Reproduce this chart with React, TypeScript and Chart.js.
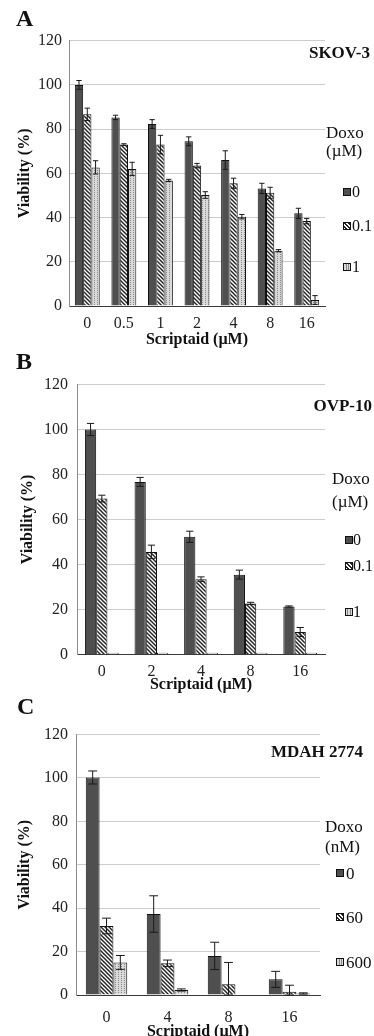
import React, { useEffect, useRef } from 'react';
import { Chart, registerables } from 'chart.js';

Chart.register(...registerables);

const SERIF = '"Liberation Serif", "Times New Roman", serif';

// ---------- Panel A : SKOV-3 ----------
const A_CATEGORIES = ['0', '0.5', '1', '2', '4', '8', '16'];
const A_DOXO_0 = [100, 85.3, 82.3, 74.5, 66, 53.2, 41.9];
const A_DOXO_0_ERR = [2, 1, 2, 2, 4.2, 2.3, 2.3];
const A_DOXO_01 = [86.7, 73, 73, 63.5, 55.5, 51.2, 38.4];
const A_DOXO_01_ERR = [2.8, 0.4, 4.2, 1, 2.3, 2.5, 1.2];
const A_DOXO_1 = [62.7, 62, 56.8, 50.2, 40.4, 25, 2.7];
const A_DOXO_1_ERR = [3, 3, 0.5, 1.5, 1, 0.5, 2];
const A_LEGEND = ['0', '0.1', '1'];

// ---------- Panel B : OVP-10 ----------
const B_CATEGORIES = ['0', '2', '4', '8', '16'];
const B_DOXO_0 = [100, 76.7, 52.3, 35.5, 21.3];
const B_DOXO_0_ERR = [2.7, 2, 2.5, 2, 0.3];
const B_DOXO_01 = [69.3, 45.6, 33.5, 22.7, 10];
const B_DOXO_01_ERR = [1.5, 3, 1, 0.5, 2];
const B_DOXO_1 = [0.8, 0.8, 0.8, 0.8, 0.8];
const B_DOXO_1_ERR = [0, 0, 0, 0, 0];
const B_LEGEND = ['0', '0.1', '1'];

// ---------- Panel C : MDAH 2774 ----------
const C_CATEGORIES = ['0', '4', '8', '16'];
const C_DOXO_0 = [100.2, 37.3, 18, 7.2];
const C_DOXO_0_ERR = [3, 8.4, 6.3, 3.7];
const C_DOXO_60 = [31.8, 14.6, 5, 1.5];
const C_DOXO_60_ERR = [3.6, 1.5, 10, 3];
const C_DOXO_600 = [15, 2.3, 0, 0.7];
const C_DOXO_600_ERR = [3.2, 0.5, 0, 0.3];
const C_LEGEND = ['0', '60', '600'];

const Y_MIN = 0;
const Y_MAX = 120;
const Y_STEP = 20;

function makePatterns() {
  const mk = (w: number, h: number, draw: (c: CanvasRenderingContext2D) => void) => {
    const cv = document.createElement('canvas');
    cv.width = w;
    cv.height = h;
    const c = cv.getContext('2d') as CanvasRenderingContext2D;
    draw(c);
    const tmp = document.createElement('canvas').getContext('2d') as CanvasRenderingContext2D;
    return tmp.createPattern(cv, 'repeat') as CanvasPattern;
  };
  const hatch = mk(4, 4, (c) => {
    c.fillStyle = '#ffffff';
    c.fillRect(0, 0, 4, 4);
    c.strokeStyle = '#262626';
    c.lineWidth = 1.5;
    for (const off of [-4, 0, 4]) {
      c.beginPath();
      c.moveTo(-1, -1 + off);
      c.lineTo(5, 5 + off);
      c.stroke();
    }
  });
  const dotted = mk(3, 2, (c) => {
    c.fillStyle = '#d9d9d9';
    c.fillRect(0, 0, 3, 2);
    c.fillStyle = '#8a8a8a';
    c.fillRect(1, 0, 1, 1);
  });
  return ['#4f4f4f', hatch, dotted];
}

const errorBarPlugin = {
  id: 'errorBars',
  afterDatasetsDraw(chart: any) {
    const { ctx } = chart;
    const ys = chart.scales.y;
    chart.data.datasets.forEach((ds: any, i: number) => {
      const errs: number[] = ds.errors || [];
      const meta = chart.getDatasetMeta(i);
      meta.data.forEach((bar: any, j: number) => {
        const e = errs[j];
        if (!e) return;
        const v = ds.data[j];
        const top = ys.getPixelForValue(v + e);
        const bot = ys.getPixelForValue(Math.max(0, v - e));
        const half = Math.max(2.5, bar.width * 0.32);
        ctx.save();
        ctx.strokeStyle = '#1a1a1a';
        ctx.lineWidth = 1;
        ctx.beginPath();
        ctx.moveTo(bar.x, top);
        ctx.lineTo(bar.x, bot);
        ctx.moveTo(bar.x - half, top);
        ctx.lineTo(bar.x + half, top);
        ctx.moveTo(bar.x - half, bot);
        ctx.lineTo(bar.x + half, bot);
        ctx.stroke();
        ctx.restore();
      });
    });
  },
};

type Series = { label: string; values: number[]; errors: number[] };
type PanelCfg = {
  canvasTop: number;
  canvasHeight: number;
  plotTop: number;
  plotBottom: number;
  plotLeft: number;
  plotRight: number;
  xLabelY: number;
  xTitleY: number;
  yTitleX: number;
  yTickPad: number;
  categories: string[];
  series: Series[];
};

const LH = 16 * 1.2;

function BarPanel({ cfg }: { cfg: PanelCfg }) {
  const ref = useRef<HTMLCanvasElement | null>(null);
  useEffect(() => {
    const canvas = ref.current as HTMLCanvasElement;
    const fills = makePatterns();
    const rel = (v: number) => v - cfg.canvasTop;
    const plotTop = rel(cfg.plotTop);
    const plotBottom = rel(cfg.plotBottom);
    const labelC = rel(cfg.xLabelY);
    const titleC = rel(cfg.xTitleY);
    const xHeight = titleC + LH / 2 - plotBottom;
    const padBottom = cfg.canvasHeight - plotBottom - xHeight;
    const chart = new Chart(canvas, {
      type: 'bar',
      data: {
        labels: cfg.categories,
        datasets: cfg.series.map((s, i) => ({
          label: s.label,
          data: s.values,
          errors: s.errors,
          backgroundColor: fills[i],
          borderColor: '#111111',
          borderWidth: 1,
          categoryPercentage: 0.68,
          barPercentage: 1,
        })) as any,
      },
      options: {
        animation: false,
        responsive: false,
        maintainAspectRatio: false,
        layout: {
          padding: { left: 0, right: 374 - cfg.plotRight, top: plotTop, bottom: padBottom },
        },
        plugins: { legend: { display: false }, tooltip: { enabled: false } },
        scales: {
          x: {
            grid: { display: false, drawTicks: false },
            border: { display: true, color: '#3a3a3a', width: 1 },
            ticks: {
              font: { family: SERIF, size: 16 },
              color: '#222',
              padding: labelC - plotBottom - LH / 2,
              maxRotation: 0,
              autoSkip: false,
            },
            title: {
              display: true,
              text: 'Scriptaid (µM)',
              font: { family: SERIF, size: 16, weight: 'bold' },
              color: '#111',
              padding: { top: 0, bottom: 0 },
            },
            afterFit: (s: any) => {
              s.height = xHeight;
            },
          },
          y: {
            min: Y_MIN,
            max: Y_MAX,
            ticks: {
              stepSize: Y_STEP,
              font: { family: SERIF, size: 16 },
              color: '#222',
              padding: cfg.yTickPad,
            },
            grid: { color: '#cccccc', lineWidth: 1, drawTicks: false },
            border: { display: true, color: '#8c8c8c', width: 1 },
            title: {
              display: true,
              text: 'Viability (%)',
              font: { family: SERIF, size: 16, weight: 'bold' },
              color: '#111',
              padding: { top: cfg.yTitleX - LH / 2, bottom: 0 },
            },
            afterFit: (s: any) => {
              s.width = cfg.plotLeft;
            },
          },
        },
      } as any,
      plugins: [errorBarPlugin],
    });
    return () => chart.destroy();
  }, [cfg]);
  return (
    <canvas
      ref={ref}
      width={374}
      height={cfg.canvasHeight}
      style={{ position: 'absolute', left: 0, top: cfg.canvasTop, width: 374, height: cfg.canvasHeight, display: 'block' }}
    />
  );
}

function Text({ x, y, size, bold, right, children }: any) {
  const style: any = {
    position: 'absolute',
    top: y,
    transform: 'translateY(-50%)',
    fontFamily: SERIF,
    fontSize: size,
    fontWeight: bold ? 'bold' : 'normal',
    lineHeight: 1,
    whiteSpace: 'nowrap',
    color: '#111',
  };
  if (right) style.right = 374 - x;
  else style.left = x;
  return <div style={style}>{children}</div>;
}

const SWATCH_STYLES = [
  { background: '#4f4f4f' },
  { background: 'repeating-linear-gradient(45deg, #ffffff 0px, #ffffff 1.3px, #262626 1.3px, #262626 2.6px)' },
  { background: 'repeating-linear-gradient(90deg, #d9d9d9 0px, #d9d9d9 1.5px, #8a8a8a 1.5px, #8a8a8a 2.5px)' },
];

function Legend({ x, swatchX, textX, size, title, unit, titleY, unitY, items, itemYs }: any) {
  return (
    <>
      <Text x={x} y={titleY} size={17}>{title}</Text>
      <Text x={x} y={unitY} size={17}>{unit}</Text>
      {items.map((it: string, i: number) => (
        <React.Fragment key={i}>
          <div
            style={{
              position: 'absolute',
              left: swatchX,
              top: itemYs[i] - 4,
              width: 6,
              height: 6,
              border: '1px solid #111',
              ...SWATCH_STYLES[i],
            }}
          />
          <Text x={textX} y={itemYs[i]} size={size}>{it}</Text>
        </React.Fragment>
      ))}
    </>
  );
}

const PANEL_A: PanelCfg = {
  canvasTop: 0,
  canvasHeight: 352,
  plotTop: 40.7,
  plotBottom: 306,
  plotLeft: 69,
  plotRight: 325,
  xLabelY: 323.5,
  xTitleY: 340,
  yTitleX: 25,
  yTickPad: 7,
  categories: A_CATEGORIES,
  series: [
    { label: '0', values: A_DOXO_0, errors: A_DOXO_0_ERR },
    { label: '0.1', values: A_DOXO_01, errors: A_DOXO_01_ERR },
    { label: '1', values: A_DOXO_1, errors: A_DOXO_1_ERR },
  ],
};

const PANEL_B: PanelCfg = {
  canvasTop: 346,
  canvasHeight: 350,
  plotTop: 384.5,
  plotBottom: 654.5,
  plotLeft: 77,
  plotRight: 325,
  xLabelY: 671.5,
  xTitleY: 685,
  yTitleX: 28,
  yTickPad: 9,
  categories: B_CATEGORIES,
  series: [
    { label: '0', values: B_DOXO_0, errors: B_DOXO_0_ERR },
    { label: '0.1', values: B_DOXO_01, errors: B_DOXO_01_ERR },
    { label: '1', values: B_DOXO_1, errors: B_DOXO_1_ERR },
  ],
};

const PANEL_C: PanelCfg = {
  canvasTop: 690,
  canvasHeight: 346,
  plotTop: 734.5,
  plotBottom: 995,
  plotLeft: 76,
  plotRight: 320,
  xLabelY: 1018,
  xTitleY: 1031.5,
  yTitleX: 25,
  yTickPad: 8,
  categories: C_CATEGORIES,
  series: [
    { label: '0', values: C_DOXO_0, errors: C_DOXO_0_ERR },
    { label: '60', values: C_DOXO_60, errors: C_DOXO_60_ERR },
    { label: '600', values: C_DOXO_600, errors: C_DOXO_600_ERR },
  ],
};

export default function App() {
  return (
    <div style={{ position: 'absolute', left: 0, top: 0, width: 374, height: 1036, background: '#fff', overflow: 'hidden' }}>
      <BarPanel cfg={PANEL_A} />
      <BarPanel cfg={PANEL_B} />
      <BarPanel cfg={PANEL_C} />

      <Text x={16} y={18} size={24} bold>A</Text>
      <Text x={16} y={361} size={24} bold>B</Text>
      <Text x={17} y={706} size={24} bold>C</Text>

      <Text x={370} y={52} size={17} bold right>SKOV-3</Text>
      <Text x={372} y={405} size={17} bold right>OVP-10</Text>
      <Text x={363} y={751} size={17} bold right>MDAH 2774</Text>

      <Legend x={326} swatchX={343} textX={352} size={16} title="Doxo" unit="(µM)" titleY={132} unitY={150} items={A_LEGEND} itemYs={[191.5, 226, 267]} />
      <Legend x={332} swatchX={345} textX={353} size={16} title="Doxo" unit="(µM)" titleY={478} unitY={501} items={B_LEGEND} itemYs={[540, 566, 612]} />
      <Legend x={325} swatchX={336} textX={346} size={17} title="Doxo" unit="(nM)" titleY={826} unitY={846} items={C_LEGEND} itemYs={[873, 917, 962]} />
    </div>
  );
}
